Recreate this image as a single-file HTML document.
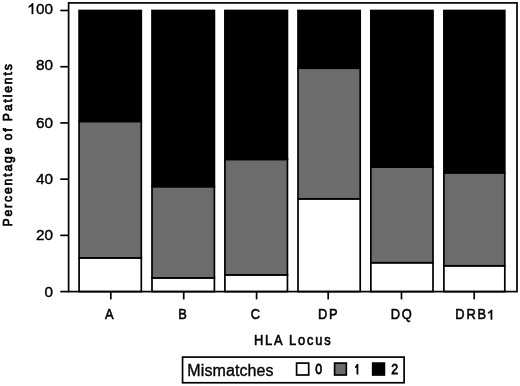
<!DOCTYPE html>
<html><head><meta charset="utf-8"><style>
html,body{margin:0;padding:0;background:#fff;}
svg{display:block;will-change:transform;}
</style></head><body>
<svg width="520" height="386" viewBox="0 0 520 386">
<rect width="520" height="386" fill="#fff"/>
<rect x="79.1" y="257.90" width="62.20" height="33.70" fill="#fff" stroke="#000" stroke-width="1.7"/>
<rect x="79.1" y="121.40" width="62.20" height="136.50" fill="#6c6c6c" stroke="#000" stroke-width="1.7"/>
<rect x="79.1" y="10.50" width="62.20" height="110.90" fill="#000" stroke="#000" stroke-width="1.7"/>
<line x1="110.8" y1="291.6" x2="110.8" y2="299.4" stroke="#000" stroke-width="1.7"/>
<rect x="152.0" y="277.90" width="62.40" height="13.70" fill="#fff" stroke="#000" stroke-width="1.7"/>
<rect x="152.0" y="186.60" width="62.40" height="91.30" fill="#6c6c6c" stroke="#000" stroke-width="1.7"/>
<rect x="152.0" y="10.50" width="62.40" height="176.10" fill="#000" stroke="#000" stroke-width="1.7"/>
<line x1="183.7" y1="291.6" x2="183.7" y2="299.4" stroke="#000" stroke-width="1.7"/>
<rect x="224.9" y="274.90" width="62.55" height="16.70" fill="#fff" stroke="#000" stroke-width="1.7"/>
<rect x="224.9" y="159.40" width="62.55" height="115.50" fill="#6c6c6c" stroke="#000" stroke-width="1.7"/>
<rect x="224.9" y="10.50" width="62.55" height="148.90" fill="#000" stroke="#000" stroke-width="1.7"/>
<line x1="256.6" y1="291.6" x2="256.6" y2="299.4" stroke="#000" stroke-width="1.7"/>
<rect x="298.0" y="198.85" width="62.20" height="92.75" fill="#fff" stroke="#000" stroke-width="1.7"/>
<rect x="298.0" y="68.20" width="62.20" height="130.65" fill="#6c6c6c" stroke="#000" stroke-width="1.7"/>
<rect x="298.0" y="10.50" width="62.20" height="57.70" fill="#000" stroke="#000" stroke-width="1.7"/>
<line x1="328.2" y1="291.6" x2="328.2" y2="299.4" stroke="#000" stroke-width="1.7"/>
<rect x="370.85" y="262.70" width="62.15" height="28.90" fill="#fff" stroke="#000" stroke-width="1.7"/>
<rect x="370.85" y="167.00" width="62.15" height="95.70" fill="#6c6c6c" stroke="#000" stroke-width="1.7"/>
<rect x="370.85" y="10.50" width="62.15" height="156.50" fill="#000" stroke="#000" stroke-width="1.7"/>
<line x1="401.5" y1="291.6" x2="401.5" y2="299.4" stroke="#000" stroke-width="1.7"/>
<rect x="443.9" y="265.80" width="60.90" height="25.80" fill="#fff" stroke="#000" stroke-width="1.7"/>
<rect x="443.9" y="172.80" width="60.90" height="93.00" fill="#6c6c6c" stroke="#000" stroke-width="1.7"/>
<rect x="443.9" y="10.50" width="60.90" height="162.30" fill="#000" stroke="#000" stroke-width="1.7"/>
<line x1="474.2" y1="291.6" x2="474.2" y2="299.4" stroke="#000" stroke-width="1.7"/>
<rect x="68.6" y="2.9" width="448.40" height="288.70" fill="none" stroke="#000" stroke-width="1.7"/>
<line x1="60.3" y1="291.60" x2="68.6" y2="291.60" stroke="#000" stroke-width="1.7"/>
<line x1="60.3" y1="235.38" x2="68.6" y2="235.38" stroke="#000" stroke-width="1.7"/>
<line x1="60.3" y1="179.16" x2="68.6" y2="179.16" stroke="#000" stroke-width="1.7"/>
<line x1="60.3" y1="122.94" x2="68.6" y2="122.94" stroke="#000" stroke-width="1.7"/>
<line x1="60.3" y1="66.72" x2="68.6" y2="66.72" stroke="#000" stroke-width="1.7"/>
<line x1="60.3" y1="10.50" x2="68.6" y2="10.50" stroke="#000" stroke-width="1.7"/>
<g font-family="Liberation Sans" font-size="15.3" fill="#000" stroke="#000" stroke-width="0.4"><text x="53" y="14.05" text-anchor="end">00</text><path transform="translate(27.48,14.05) scale(15.300,14.918)" d="M0.372 0L0.282 0L0.282 -0.560C0.260 -0.539 0.231 -0.518 0.195 -0.497C0.159 -0.476 0.122 -0.459 0.085 -0.445L0.085 -0.530C0.137 -0.555 0.182 -0.584 0.221 -0.619C0.260 -0.654 0.288 -0.686 0.305 -0.716L0.372 -0.716Z" stroke="#000" stroke-width="0.0261"/><text x="53" y="70.35" text-anchor="end">80</text><text x="53" y="128.10" text-anchor="end">60</text><text x="53" y="184.40" text-anchor="end">40</text><text x="53" y="240.45" text-anchor="end">20</text><text x="53" y="296.55" text-anchor="end">0</text></g>
<g font-family="Liberation Sans" font-size="14.3" letter-spacing="2.0" fill="#000" stroke="#000" stroke-width="0.55"><text transform="translate(110.30,319.4) scale(0.9,1)" text-anchor="middle">A</text><text transform="translate(183.35,319.4) scale(0.9,1)" text-anchor="middle">B</text><text transform="translate(256.20,319.4) scale(0.9,1)" text-anchor="middle">C</text><text transform="translate(328.65,319.4) scale(0.9,1)" text-anchor="middle">DP</text><text transform="translate(402.20,319.4) scale(0.9,1)" text-anchor="middle">DQ</text><text transform="translate(455.3,319.4) scale(0.9,1)">DRB</text></g>
<path transform="translate(487.00,319.40) scale(13.585,13.245)" d="M0.372 0L0.282 0L0.282 -0.560C0.260 -0.539 0.231 -0.518 0.195 -0.497C0.159 -0.476 0.122 -0.459 0.085 -0.445L0.085 -0.530C0.137 -0.555 0.182 -0.584 0.221 -0.619C0.260 -0.654 0.288 -0.686 0.305 -0.716L0.372 -0.716Z" stroke="#000" stroke-width="0.0405"/>
<text transform="translate(254.0,345.3) scale(0.9,1)" font-family="Liberation Sans" font-size="14.3" letter-spacing="2.0" stroke="#000" stroke-width="0.6">HLA Locus</text>
<text transform="translate(11.6,226.6) rotate(-90) scale(0.9,1)" font-family="Liberation Sans" font-size="13.6" letter-spacing="2.05" stroke="#000" stroke-width="0.75">Percentage of Patients</text>
<rect x="182.55" y="357.1" width="221.55" height="25.65" fill="#fff" stroke="#000" stroke-width="1.7"/>
<text x="187.3" y="375.6" font-family="Liberation Sans" font-size="16" letter-spacing="0.1" stroke="#000" stroke-width="0.35">Mismatches</text>
<rect x="296.6" y="363.1" width="12.10" height="11.9" fill="#fff" stroke="#000" stroke-width="1.7"/>
<text transform="translate(315.3,374.4) scale(0.8,1)" font-family="Liberation Sans" font-size="15.5" stroke="#000" stroke-width="0.8">0</text>
<rect x="334.6" y="363.1" width="11.70" height="11.9" fill="#6c6c6c" stroke="#000" stroke-width="1.7"/>
<path transform="translate(353.10,374.60) scale(13.072,14.820)" d="M0.400 0L0.262 0L0.262 -0.500C0.240 -0.480 0.210 -0.465 0.150 -0.445L0.150 -0.560C0.205 -0.585 0.250 -0.630 0.280 -0.716L0.400 -0.716Z"/>
<rect x="372.7" y="363.1" width="11.70" height="11.9" fill="#000" stroke="#000" stroke-width="1.7"/>
<text transform="translate(391.3,374.4) scale(0.8,1)" font-family="Liberation Sans" font-size="15.5" stroke="#000" stroke-width="0.8">2</text>
</svg>
</body></html>
